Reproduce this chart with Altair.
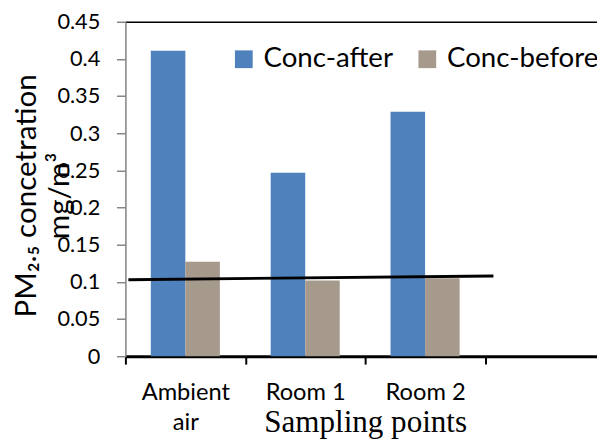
import altair as alt
import pandas as pd

points = ["Ambient air", "Room 1", "Room 2"]
conc_after = [0.411, 0.247, 0.329]
conc_before = [0.127, 0.102, 0.105]
series = ["Conc-after", "Conc-before"]
colors = ["#4F81BD", "#A69A8D"]

trend_x = [0.025, 3.07]
trend_y = [0.103, 0.108]

y_ticks = [0, 0.05, 0.1, 0.15, 0.2, 0.25, 0.3, 0.35, 0.4, 0.45]

rows = []
for p, a, b in zip(points, conc_after, conc_before):
    rows.append({"point": p, "series": series[0], "value": a})
    rows.append({"point": p, "series": series[1], "value": b})
bars_df = pd.DataFrame(rows)
trend_df = pd.DataFrame({"x": trend_x, "value": trend_y})

FONT = "Lato"
W = 478
STEP = 121.5
PAD_OUT = (W / STEP - len(points)) / 2

y_enc = alt.Y(
    "value:Q",
    scale=alt.Scale(domain=[0, 0.45], nice=False),
    axis=alt.Axis(
        values=y_ticks,
        format=".2~f",
        grid=False,
        domainColor="#868686",
        domainWidth=1.5,
        tickColor="#868686",
        tickWidth=1.5,
        tickSize=9,
        labelFontSize=22,
        labelFont=FONT,
        labelColor="black",
        labelPadding=17,
        title=["PM₂.₅ concetration", "mg/m³"],
        titleFont=FONT,
        titleFontSize=30,
        titleFontWeight="normal",
        titleColor="black",
        titleAngle=-90,
        titleAlign="center",
        titleBaseline="alphabetic",
        titleLineHeight=33,
        titleX=-91,
        titleY=176,
    ),
)

bars = alt.Chart(bars_df).mark_bar().encode(
    x=alt.X(
        "point:N",
        scale=alt.Scale(domain=points, paddingInner=0, paddingOuter=PAD_OUT, align=0),
        axis=alt.Axis(
            orient="bottom",
            domainColor="black",
            domainWidth=3,
            tickColor="black",
            tickWidth=2,
            tickSize=8,
            tickBand="extent",
            labelAngle=0,
            labelFont=FONT,
            labelFontSize=24,
            labelColor="black",
            labelPadding=17,
            labelLineHeight=30,
            labelExpr="datum.value == 'Ambient air' ? ['Ambient', 'air'] : datum.value",
            title="Sampling points",
            titleFont="Liberation Serif",
            titleFontSize=31.5,
            titleFontWeight="normal",
            titleColor="black",
            titleBaseline="alphabetic",
            titleX=243,
            titleY=76,
        ),
    ),
    xOffset=alt.XOffset(
        "series:N",
        scale=alt.Scale(domain=series, paddingInner=0, paddingOuter=0.736),
    ),
    y=y_enc,
    color=alt.Color(
        "series:N",
        scale=alt.Scale(domain=series, range=colors),
        legend=alt.Legend(
            orient="none",
            legendX=106,
            legendY=24,
            direction="horizontal",
            title=None,
            symbolType="square",
            symbolSize=324,
            symbolStrokeWidth=0,
            symbolOpacity=1,
            labelFont=FONT,
            labelFontSize=28,
            labelColor="black",
            labelOffset=6,
            columnPadding=20,
            padding=0,
        ),
    ),
)

trend = alt.Chart(trend_df).mark_line(color="black", strokeWidth=3).encode(
    x=alt.X(
        "x:Q",
        scale=alt.Scale(domain=[0, W / STEP], nice=False, zero=False),
        axis=alt.Axis(
            orient="top",
            labels=False,
            ticks=False,
            grid=False,
            domainColor="black",
            domainWidth=1.5,
            title=None,
        ),
    ),
    y=y_enc,
)

chart = (
    alt.layer(bars, trend)
    .resolve_scale(x="independent")
    .properties(
        width=W,
        height=339,
        autosize=alt.AutoSizeParams(type="none"),
        padding={"left": 119, "top": 11, "right": 0, "bottom": 84},
    )
    .configure_view(stroke=None)
    .configure(background="white")
)

chart.save("out.html", embed_options={"renderer": "svg", "actions": False})
